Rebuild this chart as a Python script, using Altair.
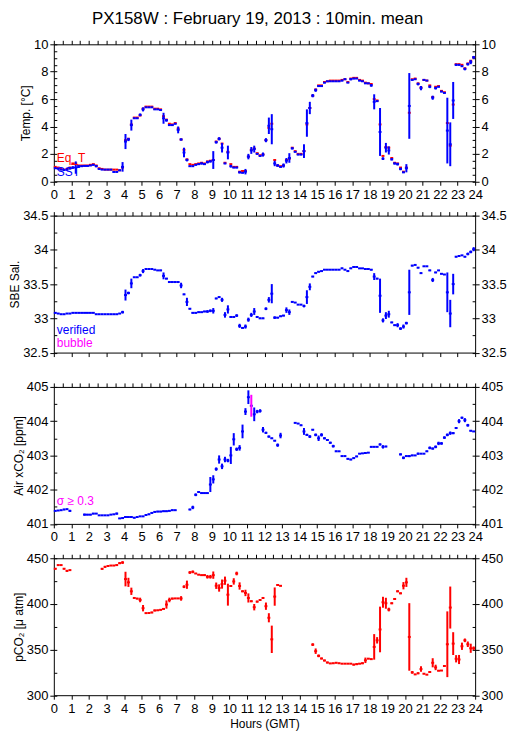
import altair as alt
import pandas as pd

FONT = "Liberation Sans"
BLUE = "#0000ff"
RED = "#ff0000"
MAG = "#ff00ff"

TITLE = "PX158W : February 19, 2013 : 10min. mean"
X_TICKS = [i / 2 for i in range(49)]

# ---- Temperature (10-min bins, 0h .. 24h) ----
sst = [
    0.95, 0.92, 0.85, 0.82, 0.85, 0.95,
    1.0, 1.0, 1.1, 1.1, 1.12, 1.12,
    1.15, 1.2, 1.1, 0.9, 0.85, 0.85,
    0.85, 0.85, 0.68, 0.68, 0.8, 1.05,
    2.9, 3.05, 4.1, 4.6, 4.6, 4.85,
    5.25, 5.4, 5.4, 5.4, 5.25, 5.25,
    5.2, 4.6, 4.45, 4.1, 4.1, 4.2,
    3.75, 3.05, 2.1, 1.55, 1.1, 1.1,
    1.2, 1.25, 1.3, 1.25, 1.4, 1.45,
    1.55, 2.85, 3.1, 2.45, 1.3, 2.1,
    1.1, 1.0, 1.0, 0.65, 0.62, 0.7,
    1.8, 2.25, 2.35, 2.0, 1.85, 1.95,
    3.0, 4.05, 3.8, 1.3, 1.15, 1.05,
    1.15, 1.5, 1.7, 2.4, 2.15, 1.95,
    1.95, 2.2, 4.25, 5.35, 6.25, 6.65,
    6.95, 6.95, 7.2, 7.3, 7.3, 7.3,
    7.3, 7.3, 7.35, 7.45, 7.2, 7.45,
    7.5, 7.5, 7.35, 7.3, 7.15, 7.15,
    7.0, 5.8, 5.85, 3.6, 1.65, 2.45,
    2.25, 1.6, 1.3, 1.25, 0.9, 0.65,
    0.95, 5.5, 7.4, 7.45, 7.1, 6.8,
    7.4, 7.35, 6.9, 6.1, 6.8, 6.9,
    6.55, 6.45, 3.7, 2.7, 5.9, 8.5,
    8.5, 8.4, 8.2, 8.55, 8.7, 9.05,
]
sst_sd = [
    0.05, 0.05, 0.03, 0.03, 0.05, 0.1,
    0.1, 0.45, 0.05, 0.03, 0.03, 0.03,
    0.03, 0.05, 0.08, 0.03, 0.02, 0.02,
    0.02, 0.02, 0.03, 0.03, 0.03, 0.35,
    0.55, 0.12, 0.4, 0.03, 0.03, 0.1,
    0.15, 0.03, 0.02, 0.02, 0.03, 0.02,
    0.05, 0.4, 0.1, 0.05, 0.03, 0.05,
    0.25, 0.08, 0.35, 0.1, 0.05, 0.03,
    0.05, 0.05, 0.08, 0.05, 0.1, 0.08,
    0.65, 0.1, 0.12, 0.35, 0.05, 0.5,
    0.1, 0.05, 0.05, 0.08, 0.05, 0.2,
    0.2, 0.25, 0.25, 0.05, 0.05, 0.15,
    0.15, 0.6, 1.1, 0.2, 0.1, 0.05,
    0.15, 0.2, 0.35, 0.08, 0.05, 0.05,
    0.05, 0.5, 1.0, 0.45, 0.12, 0.12,
    0.05, 0.05, 0.05, 0.02, 0.02, 0.02,
    0.02, 0.02, 0.05, 0.05, 0.03, 0.08,
    0.05, 0.03, 0.05, 0.03, 0.05, 0.03,
    0.1, 0.55, 0.05, 1.75, 0.1, 0.35,
    0.3, 0.08, 0.08, 0.1, 0.1, 0.05,
    0.3, 2.4, 0.05, 0.03, 0.1, 0.15,
    0.03, 0.03, 0.1, 0.15, 0.1, 0.05,
    0.05, 0.05, 2.4, 1.6, 1.35, 0.08,
    0.05, 0.05, 0.1, 0.1, 0.15, 0.1,
]
eqt = [
    1.05, 1.0, 0.9, 0.85, 0.9, 1.0,
    1.3, 1.3, 1.15, 1.15, 1.15, 1.15,
    1.2, 1.25, 1.15, 0.95, 0.9, 0.85,
    0.85, 0.85, 0.85, 0.85, 0.8, 1.0,
    3.0, 3.1, 4.15, 4.65, 4.65, 4.8,
    5.3, 5.45, 5.45, 5.45, 5.3, 5.3,
    5.25, 4.75, 4.5, 4.2, 4.15, 4.25,
    3.85, 3.05, 2.3, 1.6, 1.25, 1.2,
    1.25, 1.3, 1.35, 1.3, 1.45, 1.5,
    1.55, 2.9, 3.1, 2.75, 1.35, 2.15,
    1.25, 1.05, 1.05, 0.7, 0.75, 0.75,
    1.8, 2.3, 2.4, 2.05, 1.9, 1.95,
    3.0, 3.9, 4.2, 1.55, 1.15, 1.1,
    1.15, 1.55, 1.65, 2.45, 2.2, 2.0,
    2.0, 2.2, 4.15, 5.35, 6.25, 6.7,
    7.0, 7.0, 7.25, 7.3, 7.35, 7.35,
    7.35, 7.35, 7.4, 7.45, 7.25, 7.5,
    7.55, 7.55, 7.4, 7.35, 7.2, 7.15,
    7.1, 6.0, 5.9, 4.15, 1.85, 2.5,
    2.45, 1.7, 1.35, 1.3, 1.0, 0.7,
    1.0, 5.0, 7.45, 7.5, 7.15, 6.85,
    7.4, 7.35, 7.0, 6.15, 6.9, 6.95,
    6.6, 6.5, 4.25, 2.6, 5.6, 8.55,
    8.55, 8.5, 8.25, 8.6, 8.8, 9.05,
]

# ---- Salinity ----
sal = [
    33.08, 33.07, 33.06, 33.06, 33.07, 33.07,
    33.08, 33.08, 33.08, 33.08, 33.08, 33.08,
    33.08, 33.08, 33.06, 33.06, 33.06, 33.06,
    33.06, 33.06, 33.06, 33.06, 33.07, 33.09,
    33.34, 33.37, 33.51, 33.60, 33.60, 33.63,
    33.69, 33.72, 33.72, 33.72, 33.71, 33.70,
    33.70, 33.62, 33.58, 33.53, 33.53, 33.53,
    33.53, 33.48, 33.35, 33.24, 33.14, 33.08,
    33.08, 33.09, 33.09, 33.10, 33.10, 33.11,
    33.11, 33.29, 33.31, 33.27, 33.05, 33.13,
    33.02, 33.02, 33.04, 32.89, 32.86, 32.88,
    32.98, 33.05, 33.10, 33.02, 33.00, 33.00,
    33.14, 33.27, 33.36, 33.01, 33.01, 33.03,
    33.04, 33.12, 33.09, 33.24, 33.23, 33.20,
    33.20, 33.18, 33.31, 33.46, 33.61, 33.66,
    33.68, 33.69, 33.71, 33.71, 33.71, 33.71,
    33.71, 33.71, 33.73, 33.71, 33.69, 33.73,
    33.75, 33.75, 33.73, 33.73, 33.72, 33.72,
    33.71, 33.61, 33.58, 33.33, 32.97, 33.04,
    33.06, 32.94, 32.90, 32.90, 32.85, 32.88,
    32.93, 33.38, 33.77, 33.78, 33.74, 33.66,
    33.76, 33.76, 33.70, 33.56, 33.67, 33.70,
    33.65, 33.64, 33.38, 33.07, 33.50, 33.90,
    33.91, 33.92, 33.90, 33.94, 33.97, 34.01,
]
sal_sd = [
    0.01, 0.005, 0.005, 0.005, 0.005, 0.005,
    0.005, 0.005, 0.005, 0.005, 0.005, 0.005,
    0.005, 0.005, 0.005, 0.005, 0.005, 0.005,
    0.005, 0.005, 0.005, 0.005, 0.005, 0.02,
    0.08, 0.02, 0.07, 0.005, 0.005, 0.02,
    0.03, 0.01, 0.005, 0.005, 0.005, 0.005,
    0.01, 0.05, 0.01, 0.01, 0.005, 0.005,
    0.005, 0.04, 0.01, 0.06, 0.01, 0.01,
    0.01, 0.01, 0.005, 0.01, 0.02, 0.02,
    0.04, 0.01, 0.01, 0.03, 0.04, 0.06,
    0.01, 0.01, 0.02, 0.03, 0.01, 0.03,
    0.03, 0.03, 0.05, 0.01, 0.01, 0.01,
    0.02, 0.04, 0.14, 0.02, 0.01, 0.01,
    0.01, 0.04, 0.04, 0.01, 0.005, 0.005,
    0.005, 0.02, 0.1, 0.05, 0.01, 0.01,
    0.01, 0.005, 0.005, 0.005, 0.005, 0.005,
    0.005, 0.005, 0.01, 0.005, 0.01, 0.01,
    0.01, 0.01, 0.005, 0.005, 0.005, 0.005,
    0.01, 0.05, 0.01, 0.25, 0.03, 0.05,
    0.05, 0.01, 0.01, 0.03, 0.02, 0.03,
    0.02, 0.33, 0.01, 0.005, 0.01, 0.01,
    0.005, 0.005, 0.01, 0.03, 0.01, 0.005,
    0.005, 0.005, 0.29, 0.2, 0.15, 0.01,
    0.005, 0.005, 0.01, 0.02, 0.02, 0.03,
]

# ---- Air xCO2 ----
N = None
xco2 = [
    401.38, 401.39, 401.40, 401.42, 401.43, 401.38,
    N, N, N, N, 401.27, 401.27,
    401.27, 401.30, 401.30, 401.25, 401.25, 401.25,
    401.25, 401.27, 401.28, 401.30, 401.16, 401.17,
    401.20, 401.20, 401.20, 401.18, 401.20, 401.22,
    401.22, 401.26, 401.28, 401.32, 401.35, 401.36,
    401.36, 401.37, 401.37, 401.38, 401.40, 401.40,
    N, N, N, N, 401.42, 401.48,
    401.85, 401.93, 401.90, 401.90, 401.90, 402.15,
    402.30, 402.60, 402.88, 402.68, 402.88, 402.85,
    403.00, 403.47, 403.18, 403.22, 403.70, 404.28,
    404.70, 404.45, 404.20, 404.28, 404.30, 403.75,
    403.66, 403.55, 403.50, 403.43, 403.30, 403.58,
    N, N, N, N, 403.95, 403.93,
    403.88, 403.70, 403.60, 403.55, 403.75, 403.60,
    403.50, 403.60, 403.50, 403.45, 403.37, 403.27,
    403.12, 403.12, 402.98, 402.98, 402.90, 402.88,
    402.92, 402.97, 403.05, 403.06, 403.07, 403.08,
    403.25, 403.25, 403.25, 403.32, 403.25, 403.26,
    N, N, N, N, 403.03, 402.93,
    402.98, 402.98, 403.00, 403.00, 403.05, 403.05,
    403.05, 403.12, 403.22, 403.20, 403.25, 403.35,
    403.35, 403.52, 403.60, 403.65, 403.65, 403.80,
    404.00, 404.10, 404.03, 403.88, 403.72, 403.70,
]
xco2_sd = [
    0.01, 0.01, 0.01, 0.02, 0.01, 0.03,
    N, N, N, N, 0.03, 0.02,
    0.02, 0.02, 0.01, 0.01, 0.01, 0.01,
    0.01, 0.01, 0.01, 0.03, 0.01, 0.02,
    0.02, 0.01, 0.02, 0.02, 0.01, 0.01,
    0.01, 0.02, 0.02, 0.02, 0.02, 0.02,
    0.02, 0.02, 0.02, 0.01, 0.02, 0.01,
    N, N, N, N, 0.02, 0.05,
    0.04, 0.02, 0.02, 0.01, 0.01, 0.22,
    0.12, 0.05, 0.12, 0.08, 0.08, 0.05,
    0.25, 0.18, 0.05, 0.08, 0.2, 0.1,
    0.2, 0.32, 0.2, 0.05, 0.05, 0.08,
    0.03, 0.03, 0.02, 0.02, 0.05, 0.08,
    N, N, N, N, 0.01, 0.01,
    0.02, 0.1, 0.03, 0.04, 0.02, 0.04,
    0.08, 0.05, 0.03, 0.03, 0.03, 0.04,
    0.02, 0.01, 0.01, 0.01, 0.02, 0.02,
    0.02, 0.02, 0.01, 0.01, 0.01, 0.01,
    0.02, 0.01, 0.01, 0.03, 0.05, 0.02,
    N, N, N, N, 0.03, 0.04,
    0.02, 0.03, 0.02, 0.01, 0.03, 0.01,
    0.01, 0.02, 0.04, 0.03, 0.04, 0.05,
    0.04, 0.04, 0.04, 0.05, 0.03, 0.03,
    0.06, 0.03, 0.06, 0.04, 0.02, 0.01,
]

# ---- pCO2 ----
pco2 = [
    438.5, 442.5, 442.5, 438.5, 436.2, 437.0,
    N, N, N, N, N, N,
    N, N, N, N, 438.4, 440.6,
    441.5, 442.0, 442.0, 442.5, 444.6, 445.3,
    427.2, 423.6, 413.8, 406.5, 405.8, 404.3,
    395.3, 389.9, 390.0, 390.6, 392.8, 393.0,
    393.5, 394.5, 399.3, 404.3, 405.8, 406.0,
    406.0, 406.0, 418.8, 421.0, 434.4, 435.1,
    433.3, 432.0, 431.5, 431.5, 429.7, 429.7,
    431.5, 419.9, 417.4, 421.7, 425.4, 410.1,
    419.6, 424.6, 433.3, 419.6, 413.8, 412.0,
    406.5, 402.9, 396.4, 402.5, 404.3, 406.5,
    397.5, 384.8, 361.2, 408.0, 420.7, 419.8,
    N, N, N, N, N, N,
    N, N, N, N, 355.4, 348.2,
    343.1, 340.2, 338.0, 335.8, 334.8, 335.0,
    335.5, 335.0, 334.5, 334.5, 334.5, 334.5,
    333.5, 334.0, 334.5, 335.0, 338.2, 340.0,
    339.5, 352.9, 360.1, 372.0, 401.8, 400.7,
    393.8, 400.7, 405.4, 413.8, 411.6, 419.9,
    423.6, 363.8, 325.0, 322.8, 324.0, 328.6,
    323.5, 322.5, 325.4, 335.5, 330.4, 326.8,
    327.0, 332.0, 355.8, 396.0, 356.5, 339.9,
    339.1, 353.6, 360.1, 355.8, 351.4, 351.4,
]
pco2_sd = [
    0.8, 0.3, 0.3, 0.8, 1.0, 0.3,
    N, N, N, N, N, N,
    N, N, N, N, 1.0, 1.0,
    0.5, 0.3, 0.3, 0.8, 1.0, 1.5,
    8.0, 5.0, 4.0, 0.5, 0.8, 2.5,
    3.5, 0.3, 0.3, 0.8, 1.0, 0.5,
    0.5, 1.0, 4.5, 2.5, 1.0, 0.5,
    0.3, 2.5, 1.5, 4.5, 1.5, 1.5,
    0.5, 0.5, 0.5, 1.0, 2.0, 2.0,
    4.0, 3.5, 4.0, 5.0, 4.5, 12.0,
    1.0, 3.5, 2.0, 4.0, 1.0, 3.5,
    5.0, 1.0, 3.5, 1.0, 1.0, 1.0,
    4.0, 5.0, 15.0, 10.0, 0.5, 0.5,
    N, N, N, N, N, N,
    N, N, N, N, 1.5, 3.0,
    1.5, 1.0, 1.0, 1.0, 0.5, 0.5,
    0.5, 0.5, 0.3, 0.3, 0.3, 0.3,
    1.0, 1.0, 0.5, 1.0, 3.0, 0.5,
    0.5, 14.0, 3.5, 25.0, 6.0, 6.0,
    2.0, 1.0, 1.0, 1.0, 1.0, 4.0,
    5.0, 37.0, 1.5, 0.5, 1.0, 3.0,
    0.5, 0.5, 1.0, 5.0, 3.0, 0.5,
    0.5, 0.5, 36.0, 23.0, 12.5, 4.0,
    5.0, 4.0, 2.0, 3.0, 5.0, 2.0,
]


def frame(vals, sds=None):
    rows = []
    for k, v in enumerate(vals):
        if v is None:
            continue
        s = sds[k] if sds is not None and sds[k] is not None else 0.0
        rows.append(dict(t0=k / 6, t1=(k + 1) / 6, tm=k / 6 + 1 / 12,
                         v=v, lo=v - s, hi=v + s, sd=s))
    return pd.DataFrame(rows)


W, H = 423, 137.5
XS = alt.Scale(domain=[0, 24], nice=False, zero=False)


def hseg(df, ys, color):
    return alt.Chart(df).mark_rule(color=color, strokeWidth=2).encode(
        x=alt.X("t0:Q", scale=XS, axis=None), x2="t1:Q",
        y=alt.Y("v:Q", scale=ys, axis=None))


def vbar(df, ys, color):
    return alt.Chart(df).mark_rule(strokeWidth=2).encode(
        x=alt.X("tm:Q", scale=XS, axis=None),
        y=alt.Y("lo:Q", scale=ys, axis=None), y2="hi:Q",
        color=color)


def label(text, color, ypix):
    return alt.Chart(pd.DataFrame({"s": [text]})).mark_text(
        align="left", baseline="alphabetic", font=FONT, fontSize=12, color=color
    ).encode(text="s:N", x=alt.value(3), y=alt.value(ypix))


def panel(ydom, ymaj, yall, yfmt, ytitle, data_layers, texts, bottom_labels, bottom_title=None):
    ys = alt.Scale(domain=ydom, nice=False, zero=False)
    axdf = pd.DataFrame({"x": [0.0, 24.0], "y": ydom})
    base = alt.Chart(axdf).mark_point(opacity=0)
    xlab = "datum.value % 1 == 0 ? datum.label : ''"
    a = base.encode(
        x=alt.X("x:Q", scale=XS, title=bottom_title,
                axis=alt.Axis(orient="bottom", values=X_TICKS, labels=bottom_labels,
                              format="d", labelExpr=xlab, tickSize=4, labelPadding=3,
                              titlePadding=3)),
        y=alt.Y("y:Q", scale=ys, title=ytitle,
                axis=alt.Axis(orient="left", values=ymaj, format=yfmt, tickSize=4,
                              labelPadding=2, titlePadding=1)))
    b = base.encode(
        x=alt.X("x:Q", scale=XS, title=None,
                axis=alt.Axis(orient="top", values=X_TICKS, labels=False, tickSize=4)),
        y=alt.Y("y:Q", scale=ys, title=None,
                axis=alt.Axis(orient="right", values=ymaj, format=yfmt, tickSize=4,
                              labelPadding=2)))
    c = base.encode(
        x=alt.X("x:Q", scale=XS, axis=None),
        y=alt.Y("y:Q", scale=ys, title=None,
                axis=alt.Axis(orient="left", values=yall, labels=False, tickSize=3, offset=-3)))
    d = base.encode(
        x=alt.X("x:Q", scale=XS, axis=None),
        y=alt.Y("y:Q", scale=ys, title=None,
                axis=alt.Axis(orient="right", values=yall, labels=False, tickSize=3, offset=-3)))
    layers = [a, b, c, d] + [f(ys) for f in data_layers] + texts
    return alt.layer(*layers).resolve_axis(x="independent", y="independent").properties(
        width=W, height=H)


def rng(a, b, step):
    out = []
    v = a
    while v <= b + 1e-9:
        out.append(round(v, 4))
        v += step
    return out


df_eqt = frame(eqt)
df_sst = frame(sst, sst_sd)
df_sal = frame(sal, sal_sd)
df_xco2 = frame(xco2, xco2_sd)
df_pco2 = frame(pco2, pco2_sd)

p1 = panel([0, 10], rng(0, 10, 2), rng(0, 10, 0.5), "d", "Temp. [°C]",
           [lambda ys: hseg(df_eqt, ys, RED),
            lambda ys: hseg(df_sst, ys, BLUE),
            lambda ys: vbar(df_sst, ys, alt.value(BLUE))],
           [label("Eq_T", RED, 118.5), label("SST", BLUE, 132)], True)

p2 = panel([32.5, 34.5], rng(32.5, 34.5, 0.5), rng(32.5, 34.5, 0.25), "~f", "SBE Sal.",
           [lambda ys: hseg(df_sal, ys, BLUE),
            lambda ys: vbar(df_sal, ys, alt.value(BLUE))],
           [label("verified", BLUE, 119), label("bubble", MAG, 131.5)], False)

p3 = panel([401, 405], rng(401, 405, 1), rng(401, 405, 0.5), "d", "Air xCO₂ [ppm]",
           [lambda ys: hseg(df_xco2, ys, BLUE),
            lambda ys: vbar(df_xco2, ys,
                            alt.condition(alt.datum.sd >= 0.3, alt.value(MAG), alt.value(BLUE)))],
           [label("σ ≥ 0.3", MAG, 119)], True)

p4 = panel([300, 450], rng(300, 450, 50), rng(300, 450, 25), "d", "pCO₂ [μ atm]",
           [lambda ys: hseg(df_pco2, ys, RED),
            lambda ys: vbar(df_pco2, ys, alt.value(RED))],
           [], True, "Hours (GMT)")

chart = alt.vconcat(p1, p2, p3, p4, spacing=34, bounds="flush").properties(
    title=alt.TitleParams(TITLE, fontSize=17, font=FONT, fontWeight="normal",
                          anchor="middle", frame="bounds", offset=10, color="black"),
    padding={"left": 0, "right": 0, "top": 0, "bottom": 0},
    background="white",
).configure_view(stroke="black", strokeWidth=1).configure_axis(
    labelFont=FONT, labelFontSize=13, labelColor="black",
    titleFont=FONT, titleFontSize=12, titleFontWeight="normal", titleColor="black",
    tickColor="black", tickWidth=1, domain=False, grid=False,
    labelFlush=False, labelOverlap=False,
)

chart.save("out.html", embed_options={"renderer": "svg", "actions": False})
